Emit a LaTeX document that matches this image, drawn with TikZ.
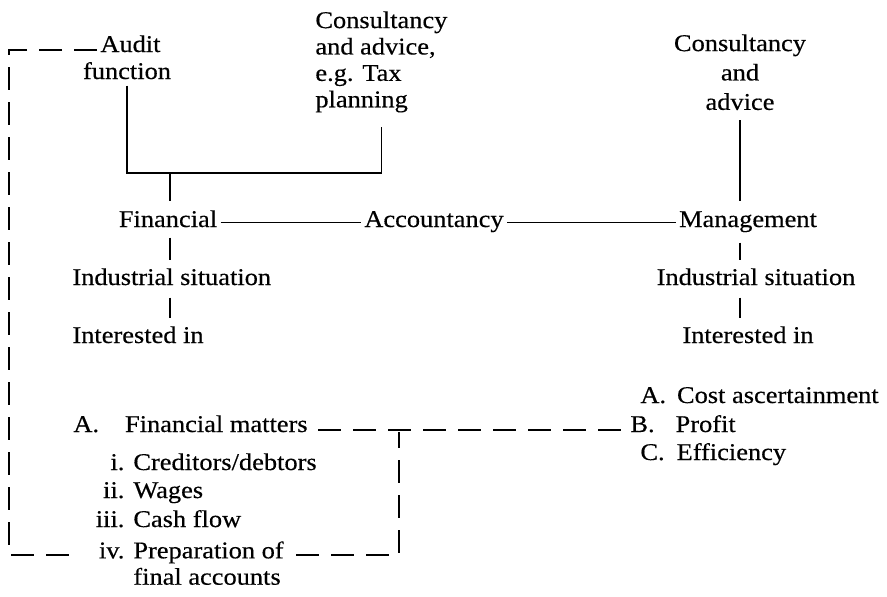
\documentclass[tikz,border=0pt]{standalone}
\usepackage{fontspec}
\setmainfont{Liberation Serif}[FakeStretch=1.1, FakeBold=0.4]
\usepackage{tikz}
\usetikzlibrary{positioning, calc}

\newcommand{\romitem}[2]{\makebox[18pt][r]{#1}\hspace{4.5pt}#2}

\begin{document}
\begin{tikzpicture}[x=0.5pt, y=-0.5pt,
    lbl/.style={inner sep=0pt, font=\fontsize{12}{13.2}\selectfont},
    ln/.style={line width=0.8pt},
    dashln/.style={line width=0.9pt, dash pattern=on 11.5pt off 6pt}]
          \useasboundingbox (0,0) rectangle (887,596);

          \node[lbl, anchor=base west] (audit) at (100,52) {Audit};
          \node[lbl, anchor=base] (auditfn) at (127,79) {function};
          \node[lbl, anchor=north west, align=left] (tax) at (315,11) {Consultancy\\and advice,\\e.g. Tax\\planning};
          \node[lbl, anchor=north, align=center] (cons) at (740,34) {Consultancy\\[1.5pt]and\\[1.5pt]advice};

          \node[lbl, anchor=base] (fin) at (168,227) {Financial};
          \node[lbl, anchor=base] (acc) at (434,227) {Accountancy};
          \node[lbl, anchor=base] (mgmt) at (748,227) {Management};

          \node[lbl, anchor=base west] (ind1) at (72,285) {Industrial situation};
          \node[lbl, anchor=base west] (int1) at (72,343) {Interested in};
          \node[lbl, anchor=base] (ind2) at (756,285) {Industrial situation};
          \node[lbl, anchor=base] (int2) at (748,343) {Interested in};

          \node[lbl, anchor=base west] (finm) at (73,432) {A.\hspace{13pt}Financial matters};
          \node[lbl, anchor=base west] (rom1) at (88,470) {\romitem{i.}{Creditors/debtors}};
          \node[lbl, anchor=base west] (rom2) at (88,498) {\romitem{ii.}{Wages}};
          \node[lbl, anchor=base west] (rom3) at (88,527) {\romitem{iii.}{Cash flow}};
          \node[lbl, anchor=north west, align=left] (rom4) at (88,541) {\romitem{iv.}{Preparation of}\\\hspace*{22.5pt}final accounts};

          \node[lbl, anchor=base west] (costA) at (640,403) {A.\hspace{5.5pt}Cost ascertainment};
          \node[lbl, anchor=base west] (profB) at (630,432) {B.\hspace{10.5pt}Profit};
          \node[lbl, anchor=base west] (effC) at (640,460) {C.\hspace{6pt}Efficiency};

          \coordinate (brk) at (170,173);
          \coordinate (nw) at (9,50);
          \coordinate (sw) at (9,555);
          \coordinate (se) at (399,555);

          \draw[ln, shorten <=3pt, shorten >=7pt] (auditfn.south) |- (brk) -| (tax.south);
          \draw[ln, shorten >=4.5pt] (brk) -- (brk |- fin.north);
          \draw[ln, shorten <=5pt, shorten >=4pt] (brk |- fin.south) -- (brk |- ind1.north);
          \draw[ln, shorten <=6pt, shorten >=4pt] (brk |- ind1.south) -- (brk |- int1.north);
          \draw[ln, shorten <=1.5pt, shorten >=1.5pt] ([yshift=2.2pt]fin.base east) -- ([yshift=2.2pt]acc.base west);
          \draw[ln, shorten <=1.5pt, shorten >=1.5pt] ([yshift=2.2pt]acc.base east) -- ([yshift=2.2pt]mgmt.base west);
          \draw[ln, shorten <=5pt, shorten >=5pt] (cons.south) -- (cons.south |- mgmt.north);
          \draw[ln, shorten <=5pt, shorten >=4pt] (cons.south |- mgmt.south) -- (cons.south |- ind2.north);
          \draw[ln, shorten <=6pt, shorten >=4pt] (cons.south |- ind2.south) -- (cons.south |- int2.north);

          \draw[dashln, shorten <=1.5pt] ([yshift=1pt]audit.base west) -- (nw) -- (sw) -- ([xshift=-9pt]sw -| rom4.west);
          \draw[dashln] ([xshift=6pt]se -| rom4.east) -- (se) -- (se |- finm.base);
          \draw[dashln, shorten <=5pt, shorten >=1.5pt] ([yshift=1pt]finm.base east) -- ([yshift=1pt]finm.base east -| profB.west);
        \end{tikzpicture}
\end{document}
